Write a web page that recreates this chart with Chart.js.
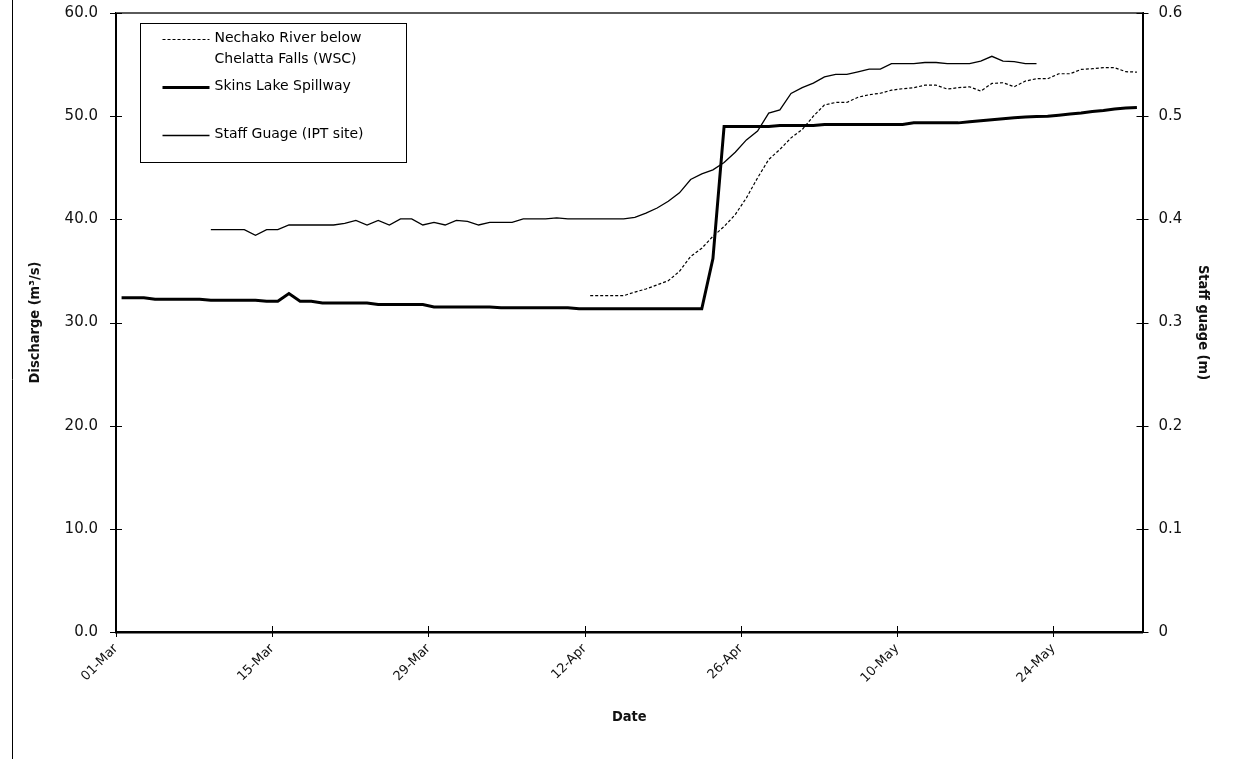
<!DOCTYPE html>
<html>
<head>
<meta charset="utf-8">
<title>Discharge and staff gauge, March to May</title>
<script src="https://cdn.jsdelivr.net/npm/chart.js@4.4.1/dist/chart.umd.min.js"></script>
<style>
  html, body { margin: 0; padding: 0; background: #fff; }
  #wrap { width: 1255px; height: 759px; }
</style>
</head>
<body>
<div id="wrap"><canvas id="flowChart" width="1255" height="759"></canvas></div>
<script>
// day 0 = 01-Mar, one value per day
var tickLabels = ["01-Mar", "15-Mar", "29-Mar", "12-Apr", "26-Apr", "10-May", "24-May"];
var tickStep = 14;
var dayCount = 92;

var legendNames = [
  ["Nechako River below", "Chelatta Falls (WSC)"],
  ["Skins Lake Spillway"],
  ["Staff Guage (IPT site)"]
];

// Skins Lake Spillway discharge (m3/s), 01-Mar to 31-May
var skinsStart = 0;
var skinsFlow = [
  32.4, 32.4, 32.4, 32.25, 32.25, 32.25, 32.25, 32.25, 32.15, 32.15,
  32.15, 32.15, 32.15, 32.05, 32.05, 32.8, 32.05, 32.05, 31.9, 31.9,
  31.9, 31.9, 31.9, 31.75, 31.75, 31.75, 31.75, 31.75, 31.5, 31.5,
  31.5, 31.5, 31.5, 31.5, 31.42, 31.42, 31.42, 31.42, 31.42, 31.42,
  31.42, 31.33, 31.33, 31.33, 31.33, 31.33, 31.33, 31.33, 31.33, 31.33,
  31.33, 31.33, 31.33, 36.2, 49.0, 49.0, 49.0, 49.0, 49.0, 49.1,
  49.1, 49.1, 49.1, 49.2, 49.2, 49.2, 49.2, 49.2, 49.2, 49.2,
  49.2, 49.35, 49.35, 49.35, 49.35, 49.35, 49.45, 49.55, 49.65, 49.75,
  49.85, 49.92, 49.96, 50.0, 50.1, 50.2, 50.3, 50.45, 50.55, 50.7,
  50.8, 50.85
];

// Nechako River below Chelatta Falls (WSC), from 12-Apr
var nechakoStart = 42;
var nechakoFlow = [
  32.6, 32.6, 32.6, 32.6, 32.95, 33.25, 33.65, 34.05, 34.96, 36.4,
  37.2, 38.35, 39.3, 40.46, 42.08, 44.02, 45.8, 46.77, 47.9, 48.7,
  50.0, 51.09, 51.33, 51.33, 51.83, 52.08, 52.22, 52.52, 52.66, 52.76,
  53.0, 53.0, 52.63, 52.76, 52.85, 52.43, 53.17, 53.24, 52.85, 53.4,
  53.63, 53.63, 54.11, 54.11, 54.53, 54.6, 54.7, 54.7, 54.31, 54.27
];

// staff gauge at the IPT site (m), 09-Mar to 22-May
var staffStart = 8;
var staffLevel = [
  0.390, 0.390, 0.390, 0.390, 0.3845, 0.390, 0.390, 0.3945, 0.3945, 0.3945,
  0.3945, 0.3945, 0.396, 0.399, 0.3945, 0.399, 0.3945, 0.4005, 0.4005, 0.3945,
  0.397, 0.3945, 0.399, 0.398, 0.3945, 0.397, 0.397, 0.397, 0.4005, 0.4005,
  0.4005, 0.4015, 0.4005, 0.4005, 0.4005, 0.4005, 0.4005, 0.4005, 0.402, 0.406,
  0.411, 0.4175, 0.4257, 0.4386, 0.444, 0.448, 0.455, 0.465, 0.477, 0.4855,
  0.503, 0.506, 0.522, 0.5276, 0.532, 0.538, 0.5405, 0.5405, 0.543, 0.5456,
  0.5456, 0.551, 0.551, 0.551, 0.552, 0.552, 0.551, 0.551, 0.551, 0.5534,
  0.558, 0.5534, 0.5528, 0.551, 0.551
];

function toPoints(start, values) {
  // each daily reading sits in the middle of its day
  return values.map(function(v, i) {
    return { x: start + i + 0.5, y: v };
  });
}

// keep the plot area where the axes put it, without label overhang
function fixBox(size, key) {
  return function(s) {
    s[key] = size;
    s.paddingTop = 0;
    s.paddingBottom = 0;
    s.paddingLeft = 0;
    s.paddingRight = 0;
  };
}

var axisFont = "'DejaVu Sans', Verdana, sans-serif";
var titleFont = "'Liberation Sans Narrow', 'DejaVu Sans Condensed', 'Liberation Sans', sans-serif";

var framePlugin = {
  id: "frame",
  afterDraw: function(chart) {
    var ctx = chart.ctx;
    var area = chart.chartArea;
    ctx.save();

    // grey top edge of the plot area
    ctx.strokeStyle = "#5a5a5a";
    ctx.lineWidth = 2;
    ctx.beginPath();
    ctx.moveTo(area.left, area.top);
    ctx.lineTo(area.right, area.top);
    ctx.stroke();

    // tick marks that cross the axis lines
    ctx.strokeStyle = "#000";
    ctx.lineWidth = 1;
    ctx.beginPath();
    ["y", "y1"].forEach(function(id) {
      var s = chart.scales[id];
      var ax = id === "y" ? area.left : area.right;
      s.ticks.forEach(function(t) {
        var py = Math.round(s.getPixelForValue(t.value)) + 0.5;
        ctx.moveTo(ax - 6, py);
        ctx.lineTo(ax + 6, py);
      });
    });
    var xs = chart.scales.x;
    xs.ticks.forEach(function(t) {
      var px = Math.round(xs.getPixelForValue(t.value)) + 0.5;
      ctx.moveTo(px, area.bottom - 6);
      ctx.lineTo(px, area.bottom + 5);
    });
    ctx.stroke();

    // outer border on the left side
    ctx.beginPath();
    ctx.moveTo(12.5, 0);
    ctx.lineTo(12.5, chart.height);
    ctx.stroke();

    // legend box
    var bx = area.left + 24.5, by = area.top + 10.5;
    ctx.lineWidth = 1;
    ctx.strokeRect(bx, by, 266, 139);

    var rows = [15, 63, 111];
    ctx.font = "14px " + axisFont;
    ctx.fillStyle = "#000";
    ctx.textBaseline = "middle";
    ctx.textAlign = "left";
    chart.data.datasets.forEach(function(ds, i) {
      var ly = by + rows[i];
      ctx.save();
      ctx.strokeStyle = ds.borderColor;
      ctx.lineWidth = ds.borderWidth;
      ctx.setLineDash(ds.borderDash || []);
      ctx.beginPath();
      ctx.moveTo(bx + 22, Math.round(ly) + 0.5);
      ctx.lineTo(bx + 69, Math.round(ly) + 0.5);
      ctx.stroke();
      ctx.restore();
      legendNames[i].forEach(function(line, j) {
        ctx.fillText(line, bx + 74, ly + j * 21);
      });
    });

    ctx.restore();
  }
};

document.addEventListener("DOMContentLoaded", function() {
  var ctx = document.getElementById("flowChart").getContext("2d");
  new Chart(ctx, {
    type: "line",
    data: {
      datasets: [{
        label: legendNames[0].join(" "),
        data: toPoints(nechakoStart, nechakoFlow),
        borderColor: "#000",
        borderWidth: 1.2,
        borderDash: [3, 2],
        pointRadius: 0,
        yAxisID: "y"
      }, {
        label: legendNames[1].join(" "),
        data: toPoints(skinsStart, skinsFlow),
        borderColor: "#000",
        borderWidth: 3,
        pointRadius: 0,
        yAxisID: "y"
      }, {
        label: legendNames[2].join(" "),
        data: toPoints(staffStart, staffLevel),
        borderColor: "#000",
        borderWidth: 1.3,
        pointRadius: 0,
        yAxisID: "y1"
      }]
    },
    options: {
      responsive: false,
      animation: false,
      devicePixelRatio: 1,
      layout: { padding: { top: 13, left: 0, right: 0, bottom: 0 } },
      plugins: {
        legend: { display: false },
        tooltip: { enabled: false }
      },
      elements: { line: { tension: 0, borderJoinStyle: "miter" } },
      scales: {
        x: {
          type: "linear",
          min: 0,
          max: dayCount,
          afterFit: fixBox(127, "height"),
          grid: { display: false, drawTicks: false },
          border: { display: true, color: "#000", width: 2.5 },
          ticks: {
            stepSize: tickStep,
            includeBounds: false,
            autoSkip: false,
            minRotation: 45,
            maxRotation: 45,
            padding: 9,
            color: "#111",
            font: { family: axisFont, size: 13 },
            callback: function(v) { return tickLabels[v / tickStep] || ""; }
          },
          title: {
            display: true,
            text: "Date",
            color: "#111",
            font: { family: titleFont, size: 14.5, weight: "bold" },
            padding: { top: 0, bottom: 33 }
          }
        },
        y: {
          position: "left",
          min: 0,
          max: 60,
          afterFit: fixBox(116, "width"),
          grid: { display: false, drawTicks: false },
          border: { display: true, color: "#000", width: 2 },
          ticks: {
            stepSize: 10,
            padding: 18,
            color: "#111",
            font: { family: axisFont, size: 15 },
            callback: function(v) { return v.toFixed(1); }
          },
          title: {
            display: true,
            text: "Discharge (m³/s)",
            color: "#111",
            font: { family: titleFont, size: 14.5, weight: "bold" },
            padding: { top: 27, bottom: 0 }
          }
        },
        y1: {
          position: "right",
          min: 0,
          max: 0.6,
          afterFit: fixBox(112.5, "width"),
          grid: { display: false, drawTicks: false },
          border: { display: true, color: "#000", width: 2 },
          ticks: {
            stepSize: 0.1,
            padding: 16,
            color: "#111",
            font: { family: axisFont, size: 15 },
            callback: function(v) { return v === 0 ? "0" : v.toFixed(1); }
          },
          title: {
            display: true,
            text: "Staff guage (m)",
            color: "#111",
            font: { family: titleFont, size: 14.5, weight: "bold" },
            padding: { top: 44, bottom: 0 }
          }
        }
      }
    },
    plugins: [framePlugin]
  });
});
</script>
</body>
</html>
